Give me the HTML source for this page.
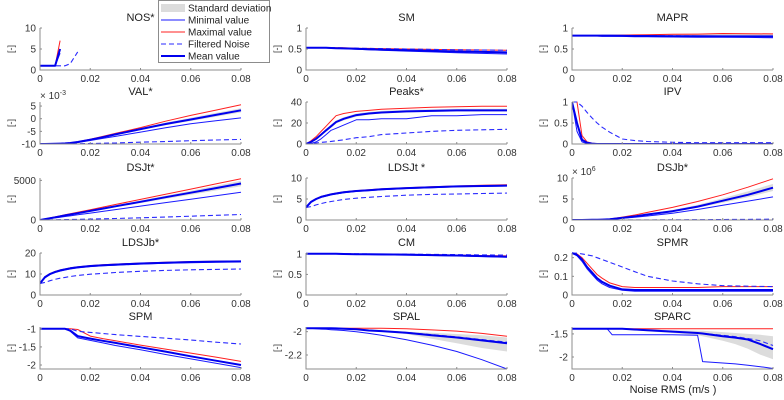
<!DOCTYPE html>
<html><head><meta charset="utf-8"><style>
body{margin:0;background:#fff}
svg{display:block;font-family:"Liberation Sans",sans-serif}
</style></head><body>
<svg id="c" width="784" height="400" viewBox="0 0 784 400"></svg>
<script>
const X = [0,.002,.004,.006,.008,.01,.012,.015,.02,.025,.03,.04,.05,.06,.07,.08];
const xTicks = [0,0.02,0.04,0.06,0.08];
const xTickLabels = ["0","0.02","0.04","0.06","0.08"];
const _ = null;

const nos_mean=[1,1,1,1,5,_,_,_,_,_,_,_,_,_,_,_];
const nos_max=[1,1,1,1,7,_,_,_,_,_,_,_,_,_,_,_];
const nos_min=[1,1,1,1,4,_,_,_,_,_,_,_,_,_,_,_];
const nos_noise=[1,1,1,1,1,1,1.5,4.3,_,_,_,_,_,_,_,_];

const sm_mean=[.53,.53,.53,.53,.53,.525,.52,.515,.505,.495,.485,.47,.455,.44,.43,.42];
const sm_max=[.53,.53,.53,.53,.53,.53,.53,.53,.52,.515,.51,.5,.49,.48,.475,.47];
const sm_min=[.53,.53,.53,.53,.525,.52,.515,.51,.495,.48,.47,.45,.43,.41,.395,.38];
const sm_noise=[.53,.53,.53,.53,.53,.53,.53,.525,.52,.515,.51,.5,.49,.48,.475,.47];
const sm_sdLo=[.53,.53,.53,.52,.52,.51,.5,.5,.49,.475,.465,.45,.43,.415,.405,.395];
const sm_sdHi=[.53,.53,.53,.54,.54,.54,.54,.53,.52,.515,.505,.49,.48,.465,.455,.445];

const mapr_mean=[.82,.82,.82,.82,.82,.82,.82,.82,.815,.81,.81,.805,.805,.8,.8,.8];
const mapr_max=[.82,.82,.82,.82,.82,.82,.825,.825,.83,.835,.84,.85,.855,.87,.865,.86];
const mapr_min=[.82,.82,.82,.81,.81,.81,.8,.8,.8,.79,.79,.785,.78,.78,.775,.77];
const mapr_noise=[.82,.82,.82,.82,.82,.82,.82,.82,.82,.815,.815,.815,.81,.81,.81,.81];
const mapr_sdLo=[.82,.81,.81,.8,.8,.8,.8,.8,.79,.79,.785,.78,.775,.775,.77,.77];
const mapr_sdHi=[.82,.83,.83,.83,.83,.83,.83,.835,.84,.84,.845,.85,.86,.86,.86,.86];

const val_mean=[-10,-10,-9.95,-9.9,-9.85,-9.75,-9.6,-9.2,-8.3,-7.3,-6.2,-4.1,-2.1,-0.3,1.5,3.3];
const val_max=[-10,-10,-9.95,-9.9,-9.8,-9.7,-9.5,-9.1,-8.1,-7,-5.8,-3.5,-1,1.3,3.4,5.5];
const val_min=[-10,-10,-9.95,-9.9,-9.85,-9.8,-9.7,-9.4,-8.6,-7.8,-7,-5.3,-3.6,-2,-0.8,0.3];
const val_noise=[-10,-10,-10,-10,-10,-10,-10,-9.9,-9.8,-9.7,-9.6,-9.3,-9,-8.7,-8.4,-8.2];
const val_sdLo=[-10,-10,-9.95,-9.9,-9.9,-9.8,-9.7,-9.3,-8.5,-7.5,-6.5,-4.5,-2.6,-0.9,0.8,2.5];
const val_sdHi=[-10,-10,-9.95,-9.9,-9.8,-9.7,-9.5,-9.1,-8.1,-7.1,-5.9,-3.7,-1.5,0.4,2.3,4.1];

const pk_mean=[0,2,5,9,13,17,21,24,27.5,29,30,31,31.5,32,32,32];
const pk_max=[0,3,7,12,17,22,27,29,31,32,33,34,35,35.5,36,36];
const pk_min=[0,0.5,2,5,9,13,15,18,23,23,24,24,27,27,28,28];
const pk_noise=[0,0.5,1,1.5,2,2.5,3,4,6,7,9,10.5,12,13,13.5,14];
const pk_sdLo=[0,1,4,8,11.5,15.5,19.5,22.5,26,28,29,30,30.5,31,31,31];
const pk_sdHi=[0,3,6,10,14.5,18.5,22.5,25.5,29,30.5,31.5,32.5,33,33.5,33.5,33.5];

const ipv_mean=[1,0.5,0.1,0.03,0.01,0,0,0,0,0,0,0,0,0,0,0];
const ipv_max=[1,1,0.2,0.05,0.02,0.01,0,0,0,0,0,0,0,0,0,0];
const ipv_min=[1,0.3,0.05,0.01,0,0,0,0,0,0,0,0,0,0,0,0];
const ipv_noise=[1,1,0.9,0.75,0.62,0.5,0.4,0.28,0.12,0.08,0.06,0.04,0.03,0.03,0.03,0.03];
const ipv_sdLo=[1,0.4,0.07,0.02,0,0,0,0,0,0,0,0,0,0,0,0];
const ipv_sdHi=[1,0.6,0.15,0.04,0.015,0.005,0,0,0,0,0,0,0,0,0,0];

const dsjt_mean=[0,115,230,345,460,575,690,860,1150,1440,1725,2300,2875,3450,4025,4600];
const dsjt_max=[0,130,260,390,520,650,780,975,1300,1625,1950,2600,3250,3900,4550,5200];
const dsjt_min=[0,90,180,270,350,440,520,650,870,1090,1310,1750,2190,2630,3070,3500];
const dsjt_noise=[0,10,20,30,40,50,60,75,110,150,190,280,380,480,590,700];
const dsjt_sdLo=[0,105,210,315,420,525,630,790,1060,1330,1600,2130,2660,3190,3720,4250];
const dsjt_sdHi=[0,125,250,375,500,625,750,930,1240,1550,1860,2470,3080,3700,4320,4950];

const ldsjt_mean=[3,4.3,5,5.5,5.8,6.1,6.3,6.6,6.9,7.1,7.3,7.6,7.8,8,8.1,8.2];
const ldsjt_max=[3,4.4,5.1,5.6,5.9,6.2,6.4,6.7,7,7.2,7.4,7.7,7.9,8.1,8.25,8.4];
const ldsjt_min=[3,4.2,4.9,5.4,5.7,6,6.2,6.5,6.8,7,7.2,7.5,7.7,7.9,8,8.1];
const ldsjt_noise=[3,3.2,3.6,3.9,4.2,4.4,4.6,4.9,5.2,5.4,5.6,5.9,6.1,6.2,6.3,6.4];
const ldsjt_sdLo=[3,4.2,4.9,5.4,5.7,6,6.2,6.5,6.8,7,7.2,7.5,7.7,7.9,8,8.1];
const ldsjt_sdHi=[3,4.4,5.1,5.6,5.9,6.2,6.4,6.7,7,7.2,7.4,7.7,7.9,8.1,8.2,8.3];

const dsjb_mean=[0,0,0.01,0.02,0.04,0.07,0.1,0.17,0.5,0.85,1.3,2.1,3.2,4.6,6,7.7];
const dsjb_max=[0,0,0.01,0.03,0.05,0.09,0.14,0.23,0.7,1.2,1.8,3,4.4,6,7.8,9.8];
const dsjb_min=[0,0,0.01,0.02,0.03,0.05,0.08,0.13,0.4,0.65,0.95,1.6,2.5,3.5,4.5,5.5];
const dsjb_noise=[0,0,0,0,0,0,0,0.01,0.01,0.02,0.03,0.05,0.08,0.11,0.15,0.2];
const dsjb_sdLo=[0,0,0.01,0.02,0.035,0.06,0.09,0.15,0.45,0.75,1.15,1.9,2.9,4.1,5.4,6.9];
const dsjb_sdHi=[0,0,0.01,0.025,0.045,0.08,0.12,0.2,0.6,1.0,1.5,2.4,3.6,5.2,6.8,8.6];

const ldsjb_mean=[5.5,8.5,10,11,11.7,12.2,12.7,13.2,13.8,14.2,14.5,15,15.4,15.7,15.9,16];
const ldsjb_max=[5.5,8.7,10.2,11.2,11.9,12.4,12.9,13.4,14,14.4,14.7,15.2,15.6,15.9,16.1,16.2];
const ldsjb_min=[5.5,8.2,9.7,10.7,11.4,11.9,12.4,12.9,13.5,13.9,14.2,14.7,15.1,15.4,15.6,15.7];
const ldsjb_noise=[5.5,6,6.8,7.5,8,8.4,8.8,9.3,9.9,10.3,10.7,11.3,11.7,12,12.2,12.4];
const ldsjb_sdLo=[5.5,8.3,9.8,10.8,11.5,12,12.5,13,13.6,14,14.3,14.8,15.2,15.5,15.7,15.8];
const ldsjb_sdHi=[5.5,8.7,10.2,11.2,11.9,12.4,12.9,13.4,14,14.4,14.7,15.2,15.6,15.9,16.1,16.2];

const cm_mean=[1,1,1,1,1,1,1,.995,.99,.99,.985,.98,.97,.96,.945,.93];
const cm_max=[1,1,1,1,1,1,1,1,.995,.99,.99,.985,.98,.97,.96,.95];
const cm_min=[1,1,1,1,1,1,.995,.99,.985,.98,.975,.97,.96,.95,.935,.92];
const cm_noise=[1,1,1,1,1,1,1,1,1,.995,.99,.99,.985,.98,.975,.97];
const cm_sdLo=[1,1,1,1,1,1,.995,.99,.985,.98,.975,.97,.96,.95,.935,.92];
const cm_sdHi=[1,1,1,1,1,1,1,1,.995,.99,.99,.985,.98,.97,.96,.95];

const spmr_mean=[.225,.215,.19,.15,.12,.09,.07,.05,.03,.027,.027,.027,.027,.027,.027,.027];
const spmr_max=[.225,.22,.2,.17,.14,.11,.09,.065,.045,.04,.04,.04,.04,.045,.045,.045];
const spmr_min=[.225,.21,.18,.14,.11,.08,.06,.04,.025,.02,.02,.02,.02,.02,.02,.02];
const spmr_noise=[.225,.224,.22,.215,.21,.2,.19,.175,.15,.125,.1,.075,.06,.05,.047,.045];
const spmr_sdLo=[.225,.21,.185,.145,.115,.085,.065,.045,.027,.023,.023,.023,.023,.023,.023,.023];
const spmr_sdHi=[.225,.22,.195,.155,.125,.095,.075,.055,.034,.031,.031,.031,.031,.031,.031,.031];

const spm_mean=[-1,-1,-1,-1,-1,-1,-1.05,-1.2,-1.27,-1.33,-1.39,-1.51,-1.63,-1.76,-1.88,-2.0];
const spm_max=[-1,-1,-1,-1,-1,-1,-1,-1.02,-1.2,-1.27,-1.33,-1.45,-1.56,-1.67,-1.78,-1.9];
const spm_min=[-1,-1,-1,-1,-1,-1,-1.07,-1.25,-1.32,-1.39,-1.46,-1.58,-1.71,-1.83,-1.95,-2.07];
const spm_noise=[-1,-1,-1,-1,-1,-1,-1,-1.07,-1.1,-1.13,-1.16,-1.21,-1.26,-1.31,-1.37,-1.42];
const spm_sdLo=[-1,-1,-1,-1,-1,-1,-1.06,-1.22,-1.29,-1.35,-1.41,-1.53,-1.65,-1.78,-1.9,-2.02];
const spm_sdHi=[-1,-1,-1,-1,-1,-1,-1.03,-1.18,-1.25,-1.31,-1.37,-1.49,-1.61,-1.74,-1.86,-1.98];

const spal_mean=[-1.97,-1.97,-1.97,-1.97,-1.97,-1.97,-1.972,-1.975,-1.98,-1.99,-1.995,-2.01,-2.03,-2.05,-2.075,-2.1];
const spal_max=[-1.97,-1.97,-1.97,-1.97,-1.97,-1.97,-1.97,-1.97,-1.97,-1.97,-1.97,-1.975,-1.985,-1.995,-2.015,-2.04];
const spal_min=[-1.97,-1.972,-1.975,-1.978,-1.98,-1.983,-1.986,-1.99,-2.0,-2.015,-2.03,-2.07,-2.115,-2.17,-2.24,-2.32];
const spal_noise=[-1.97,-1.97,-1.97,-1.97,-1.97,-1.97,-1.972,-1.975,-1.98,-1.988,-1.993,-2.007,-2.025,-2.045,-2.068,-2.09];
const spal_sdLo=[-1.97,-1.97,-1.97,-1.97,-1.972,-1.974,-1.976,-1.98,-1.985,-1.995,-2.0,-2.02,-2.06,-2.1,-2.14,-2.17];
const spal_sdHi=[-1.97,-1.97,-1.97,-1.97,-1.97,-1.97,-1.97,-1.972,-1.975,-1.98,-1.985,-2.0,-2.01,-2.02,-2.03,-2.05];

const X_sparc=[0,.005,.01,.014,.016,.02,.03,.04,.05,.052,.06,.065,.07,.075,.08];
const sparc_mean=[-1.39,-1.39,-1.39,-1.39,-1.39,-1.39,-1.42,-1.45,-1.48,-1.49,-1.55,-1.58,-1.62,-1.72,-1.83];
const sparc_max=[-1.39,-1.39,-1.39,-1.39,-1.39,-1.39,-1.39,-1.39,-1.39,-1.39,-1.39,-1.39,-1.39,-1.39,-1.39];
const sparc_min=[-1.39,-1.39,-1.39,-1.39,-1.52,-1.52,-1.52,-1.52,-1.53,-2.1,-2.13,-2.15,-2.18,-2.21,-2.25];
const sparc_noise=[-1.39,-1.39,-1.39,-1.39,-1.39,-1.39,-1.42,-1.45,-1.48,-1.49,-1.53,-1.56,-1.6,-1.65,-1.75];
const sparc_sdLo=[-1.39,-1.39,-1.39,-1.39,-1.4,-1.4,-1.44,-1.48,-1.53,-1.55,-1.65,-1.72,-1.82,-1.95,-2.05];
const sparc_sdHi=[-1.39,-1.39,-1.39,-1.39,-1.39,-1.39,-1.4,-1.42,-1.43,-1.43,-1.46,-1.48,-1.5,-1.52,-1.55];

const colLeft=[40,306,572], rowTop=[28,102,178,253,327], W=201, H=42;
const panels=[
 {id:'nos',t:'NOS*',c:0,r:0,x:X,y:[0,10],tk:[0,5,10],tl:["0","5","10"],mean:nos_mean,max:nos_max,min:nos_min,noise:nos_noise},
 {id:'sm',t:'SM',c:1,r:0,x:X,y:[0,1],tk:[0,.5,1],tl:["0","0.5","1"],mean:sm_mean,max:sm_max,min:sm_min,noise:sm_noise,lo:sm_sdLo,hi:sm_sdHi},
 {id:'mapr',t:'MAPR',c:2,r:0,x:X,y:[0,1],tk:[0,.5,1],tl:["0","0.5","1"],mean:mapr_mean,max:mapr_max,min:mapr_min,noise:mapr_noise,lo:mapr_sdLo,hi:mapr_sdHi},
 {id:'val',t:'VAL*',c:0,r:1,x:X,y:[-10,6.6],tk:[-10,-5,0,5],tl:["-10","-5","0","5"],mean:val_mean,max:val_max,min:val_min,noise:val_noise,lo:val_sdLo,hi:val_sdHi,exp:'-3'},
 {id:'peaks',t:'Peaks*',c:1,r:1,x:X,y:[0,40],tk:[0,20,40],tl:["0","20","40"],mean:pk_mean,max:pk_max,min:pk_min,noise:pk_noise,lo:pk_sdLo,hi:pk_sdHi},
 {id:'ipv',t:'IPV',c:2,r:1,x:X,y:[0,1],tk:[0,.5,1],tl:["0","0.5","1"],mean:ipv_mean,max:ipv_max,min:ipv_min,noise:ipv_noise,lo:ipv_sdLo,hi:ipv_sdHi},
 {id:'dsjt',t:'DSJt*',c:0,r:2,x:X,y:[0,5300],tk:[0,5000],tl:["0","5000"],mean:dsjt_mean,max:dsjt_max,min:dsjt_min,noise:dsjt_noise,lo:dsjt_sdLo,hi:dsjt_sdHi},
 {id:'ldsjt',t:'LDSJt *',c:1,r:2,x:X,y:[0,10],tk:[0,5,10],tl:["0","5","10"],mean:ldsjt_mean,max:ldsjt_max,min:ldsjt_min,noise:ldsjt_noise,lo:ldsjt_sdLo,hi:ldsjt_sdHi},
 {id:'dsjb',t:'DSJb*',c:2,r:2,x:X,y:[0,10],tk:[0,5,10],tl:["0","5","10"],mean:dsjb_mean,max:dsjb_max,min:dsjb_min,noise:dsjb_noise,lo:dsjb_sdLo,hi:dsjb_sdHi,exp:'6'},
 {id:'ldsjb',t:'LDSJb*',c:0,r:3,x:X,y:[0,20],tk:[0,10,20],tl:["0","10","20"],mean:ldsjb_mean,max:ldsjb_max,min:ldsjb_min,noise:ldsjb_noise,lo:ldsjb_sdLo,hi:ldsjb_sdHi},
 {id:'cm',t:'CM',c:1,r:3,x:X,y:[0,1.02],tk:[0,.5,1],tl:["0","0.5","1"],mean:cm_mean,max:cm_max,min:cm_min,noise:cm_noise,lo:cm_sdLo,hi:cm_sdHi},
 {id:'spmr',t:'SPMR',c:2,r:3,x:X,y:[0,.225],tk:[0,.1,.2],tl:["0","0.1","0.2"],mean:spmr_mean,max:spmr_max,min:spmr_min,noise:spmr_noise,lo:spmr_sdLo,hi:spmr_sdHi},
 {id:'spm',t:'SPM',c:0,r:4,x:X,y:[-2.11,-0.95],tk:[-2,-1.5,-1],tl:["-2","-1.5","-1"],mean:spm_mean,max:spm_max,min:spm_min,noise:spm_noise,lo:spm_sdLo,hi:spm_sdHi},
 {id:'spal',t:'SPAL',c:1,r:4,x:X,y:[-2.32,-1.96],tk:[-2.2,-2],tl:["-2.2","-2"],mean:spal_mean,max:spal_max,min:spal_min,noise:spal_noise,lo:spal_sdLo,hi:spal_sdHi},
 {id:'sparc',t:'SPARC',c:2,r:4,x:X_sparc,y:[-2.26,-1.35],tk:[-2,-1.5],tl:["-2","-1.5"],mean:sparc_mean,max:sparc_max,min:sparc_min,noise:sparc_noise,lo:sparc_sdLo,hi:sparc_sdHi}
];
const NS='http://www.w3.org/2000/svg';
const svg=document.getElementById('c');
function mk(tag,attrs,parent){const e=document.createElementNS(NS,tag);for(const k in attrs)e.setAttribute(k,attrs[k]);(parent||svg).appendChild(e);return e;}
const defs=mk('defs',{});
panels.forEach(p=>{
  const L=colLeft[p.c],T=rowTop[p.r],B=T+H,R=L+W;
  const sx=v=>L+v/0.08*W;
  const sy=v=>B-(v-p.y[0])/(p.y[1]-p.y[0])*H;
  const g=mk('g',{});
  
  
  const cp=mk('clipPath',{id:'cl-'+p.id},defs);
  mk('rect',{x:L,y:T-1,width:W+1,height:H+1},cp);
  const pg=mk('g',{'clip-path':'url(#cl-'+p.id+')'},g);
  if(p.lo){
    let d='';
    p.x.forEach((xv,i)=>{d+=(i?'L':'M')+sx(xv).toFixed(1)+','+sy(p.hi[i]).toFixed(1);});
    for(let i=p.x.length-1;i>=0;i--)d+='L'+sx(p.x[i]).toFixed(1)+','+sy(p.lo[i]).toFixed(1);
    const band=mk('path',{d:d+'Z',fill:'#dcdcdc',stroke:'none'},pg);
    
    
  }
  const line=(arr,name,attrs)=>{
    let d='',pen=false;
    arr.forEach((v,i)=>{if(v===null){pen=false;return;}d+=(pen?'L':'M')+sx(p.x[i]).toFixed(1)+','+sy(v).toFixed(1);pen=true;});
    const e=mk('path',Object.assign({d:d,fill:'none','stroke-linejoin':'round'},attrs),pg);
    
    
  };
  line(p.min,'min-line',{stroke:'#1a1aff','stroke-width':1});
  line(p.max,'max-line',{stroke:'#ff2020','stroke-width':1});
  line(p.noise,'noise-line',{stroke:'#2a2aff','stroke-width':1.1,'stroke-dasharray':'5,3'});
  line(p.mean,'mean-line',{stroke:'#0000ee','stroke-width':2});
  // axes
  const ax=mk('path',{d:`M${L},${T}L${L},${B}L${R},${B}`,fill:'none',stroke:'#8c8c8c','stroke-width':1},g);
  
  
  xTicks.forEach((v,i)=>{
    mk('line',{x1:sx(v),x2:sx(v),y1:B,y2:B-2,stroke:'#8c8c8c'},g);
    const t=mk('text',{x:sx(v),y:B+12,'font-size':10,'text-anchor':'middle',fill:'#333'},g);
    t.textContent=xTickLabels[i];
    
    
  });
  p.tk.forEach((v,i)=>{
    mk('line',{x1:L,x2:L+2,y1:sy(v),y2:sy(v),stroke:'#8c8c8c'},g);
    const t=mk('text',{x:L-4,y:sy(v)+3.5,'font-size':10,'text-anchor':'end',fill:'#333'},g);
    t.textContent=p.tl[i];
    
    
  });
  const yl=mk('text',{x:0,y:0,'font-size':9,'text-anchor':'middle',fill:'#333',transform:`translate(${L-26},${(T+B)/2}) rotate(-90)`},g);
  yl.textContent='[-]';
  
  
  const tt=mk('text',{x:L+W/2,y:T-7,'font-size':11,'text-anchor':'middle',fill:'#222'},g);
  tt.textContent=p.t;
  
  
  if(p.exp){
    const ex=mk('text',{x:L,y:T-3,'font-size':10,fill:'#333'},g);
    ex.textContent='\u00d7 10';
    const sup=mk('tspan',{dy:-4,'font-size':7},ex);
    sup.textContent=p.exp;
    
    
  }
});
const xl=mk('text',{x:673,y:393,'font-size':11,'text-anchor':'middle',fill:'#222'});
xl.textContent='Noise RMS (m/s )';


// legend
const lg=mk('g',{});


mk('rect',{x:158.5,y:0.5,width:111,height:62,fill:'#fff',stroke:'#8c8c8c'},lg);
const legItems=[['Standard deviation','sd'],['Minimal value','min'],['Maximal value','max'],['Filtered Noise','noise'],['Mean value','mean']];
legItems.forEach((it,i)=>{
  const y=8+i*12;
  const eg=mk('g',{},lg);
  
  
  if(it[1]==='sd') mk('rect',{x:161,y:y-4,width:24,height:8,fill:'#dcdcdc'},eg);
  else {
    const st={min:['#1a1aff',1,''],max:['#ff2020',1,''],noise:['#2a2aff',1.1,'5,3'],mean:['#0000ee',2,'']}[it[1]];
    mk('line',{x1:161,x2:185,y1:y,y2:y,stroke:st[0],'stroke-width':st[1],'stroke-dasharray':st[2]||'none'},eg);
  }
  const t=mk('text',{x:188,y:y+3.5,'font-size':10,fill:'#222'},eg);
  t.textContent=it[0];
});
</script>
</body></html>
